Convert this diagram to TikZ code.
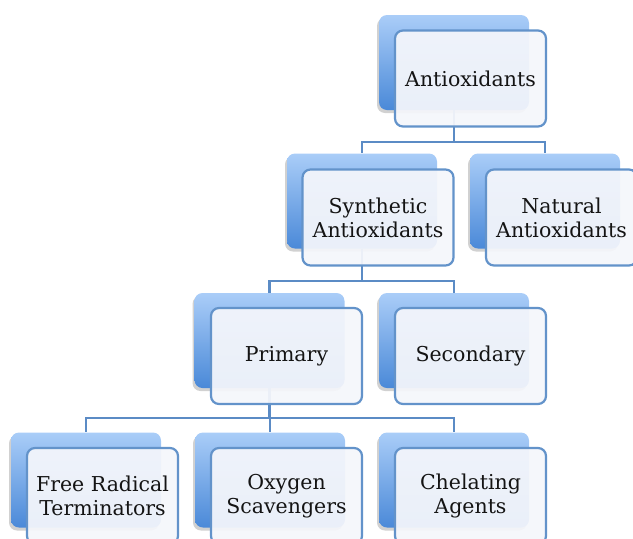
\documentclass[tikz,border=0pt]{standalone}
\usepackage{fontspec}
\setmainfont{DejaVu Serif}
\usetikzlibrary{shadows}
\definecolor{backtop}{HTML}{AACDF8}
\definecolor{backbot}{HTML}{4A89D8}
\definecolor{frontfill}{HTML}{F4F6FB}
\definecolor{frontline}{HTML}{6393CA}
\definecolor{linkcol}{HTML}{5B8BC5}
\definecolor{txt}{HTML}{141414}
\tikzset{
  backbox/.style={rectangle, rounded corners=8pt, minimum width=150pt, minimum height=95pt,
    inner sep=0pt, top color=backtop, bottom color=backbot, draw=none,
    drop shadow={shadow xshift=-2pt, shadow yshift=-3pt, opacity=0.3, fill=black!60}},
  frontbox/.style={rectangle, rounded corners=8pt, minimum width=151pt, minimum height=96pt,
    inner sep=0pt, fill=frontfill, fill opacity=0.94, text opacity=1, draw=frontline,
    draw opacity=1, line width=2.2pt, align=center, text=txt,
    font=\fontsize{20.5}{24}\selectfont},
  link/.style={draw=linkcol, line width=2.2pt}
}
\begin{document}
\begin{tikzpicture}[x=1pt,y=-1pt]
\useasboundingbox (0,0) rectangle (633,539);
% back boxes (centres)
\node[backbox] (Ab) at (454,62.5) {};
\node[backbox] (Sb) at (362,201) {};
\node[backbox] (Nb) at (545,201) {};
\node[backbox] (Pb) at (269.5,340.5) {};
\node[backbox] (Kb) at (454,340.5) {};
\node[backbox] (Fb) at (86,480) {};
\node[backbox] (Ob) at (270,480) {};
\node[backbox] (Cb) at (454,480) {};
% connectors (behind the front boxes)
\draw[link] (Ab.south) -- ++(0,32) -| (Sb.north);
\draw[link] (Ab.south) -- ++(0,32) -| (Nb.north);
\draw[link] (Sb.south) -- ++(0,32) -| (Pb.north);
\draw[link] (Sb.south) -- ++(0,32) -| (Kb.north);
\draw[link] (Pb.south) -- ++(0,30) -| (Fb.north);
\draw[link] (Pb.south) -- ++(0,30) -| (Ob.north);
\draw[link] (Pb.south) -- ++(0,30) -| (Cb.north);
% front boxes
\node[frontbox] (A) at (470.5,78.5) {Antioxidants};
\node[frontbox] (S) at (378,217.5) {Synthetic\\Antioxidants};
\node[frontbox] (N) at (561.5,217.5) {Natural\\Antioxidants};
\node[frontbox] (P) at (286.5,356) {Primary};
\node[frontbox] (K) at (470.5,356) {Secondary};
\node[frontbox] (F) at (102.5,496) {Free Radical\\Terminators};
\node[frontbox] (O) at (286.5,496) {Oxygen\\Scavengers};
\node[frontbox] (C) at (470.5,496) {Chelating\\Agents};
\end{tikzpicture}
\end{document}
